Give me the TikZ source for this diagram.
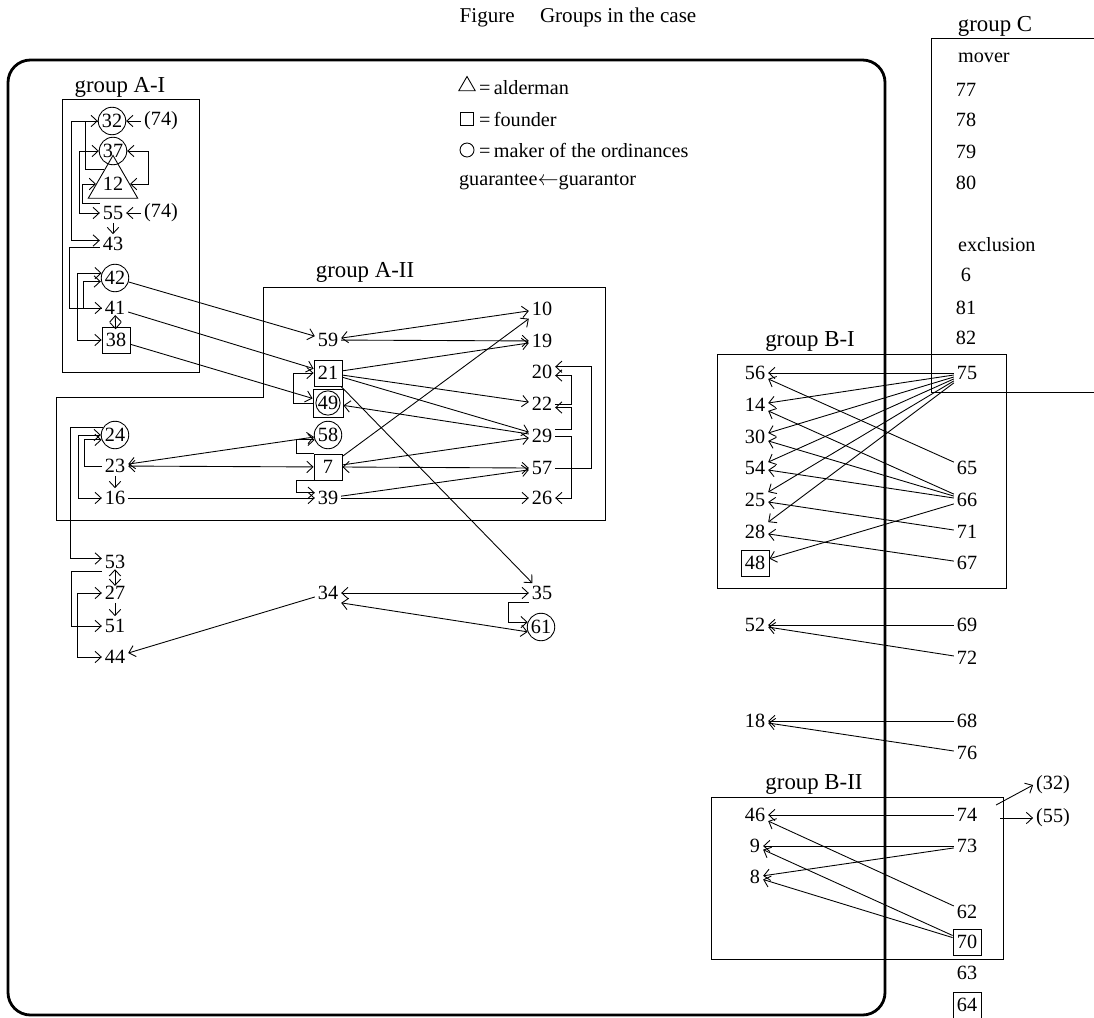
\documentclass[tikz,border=0pt]{standalone}
\usepackage{fontspec}
\setmainfont{Liberation Serif}
\usetikzlibrary{arrows.meta,shapes.geometric}

\begin{document}
\begin{tikzpicture}[x=0.02cm, y=-0.02cm, >={Straight Barb[length=3.5pt,width=6.5pt]},
    num/.style={inner sep=1.5pt, font=\fontsize{11.5}{13}\selectfont},
    maker/.style={num, circle, draw, minimum size=0.55cm, inner sep=0pt},
    founder/.style={num, draw, minimum width=0.56cm, minimum height=0.52cm, inner sep=0pt},
    alder/.style={num, regular polygon, regular polygon sides=3, draw, minimum size=0.94cm, inner sep=0pt},
    grp/.style={font=\fontsize{13}{15}\selectfont, inner sep=1pt},
    mutual/.style={<->, shorten <=-1.5pt, shorten >=-1.5pt},
    every path/.style={line width=0.5pt}]
    \useasboundingbox (0,0) rectangle (1094,1017);

    % Title
    \node[font=\fontsize{12}{14}\selectfont] (title) at (578,17) {Figure\hspace{1.2em}Groups in the case};

    % Frames
    \draw[line width=1.6pt, rounded corners=0.45cm] (8,60) rectangle (885,1015);
    \draw (62,99) rectangle (199,372);
    \draw (263,287) -- (605,287) -- (605,520) -- (56,520) -- (56,397) -- (263,397) -- cycle;
    \draw (717,354) rectangle (1006,588);
    \draw (711,797) rectangle (1003,959);
    \draw (1094,38) -- (931,38) -- (931,392) -- (1094,392);
    \node[grp] (gA1) at (120,87) {group A-I};
    \node[grp] (gA2) at (365,272) {group A-II};
    \node[grp] (gB1) at (810,341) {group B-I};
    \node[grp] (gB2) at (814,784) {group B-II};
    \node[grp] (gC) at (995,26) {group C};

    % Legend
    \node[draw, regular polygon, regular polygon sides=3, minimum size=0.38cm, inner sep=0pt] (symA) at (467,86) {};
    \node[num, anchor=west] (legA) at (476,88) {=\,alderman};
    \node[draw, minimum size=0.26cm, inner sep=0pt] (symF) at (467,119) {};
    \node[num, anchor=west] (legF) at (476,119) {=\,founder};
    \node[draw, circle, minimum size=0.28cm, inner sep=0pt] (symM) at (467,150) {};
    \node[num, anchor=west] (legM) at (476,150) {=\,maker of the ordinances};
    \node[num, anchor=west] (legG) at (456,182) {guarantee$\leftarrow$guarantor};

    % group A-I
    \node[maker] (n32) at (112,121) {32};
    \node[num] (n74a) at (161,121) {(74)};
    \node[maker] (n37) at (113,151) {37};
    \node[alder] (n12) at (113,184) {12};
    \node[num] (n55) at (113,213) {55};
    \node[num] (n74b) at (161,213) {(74)};
    \node[num] (n43) at (113,244) {43};
    \node[maker] (n42) at (115,278) {42};
    \node[num] (n41) at (115,308) {41};
    \node[founder] (n38) at (116,340) {38};

    % group A-II
    \node[num] (n59) at (328,340) {59};
    \node[founder] (n21) at (328,373) {21};
    \node[founder, minimum width=0.6cm, minimum height=0.56cm] (n49) at (328,403) {};
    \node[maker, minimum size=0.48cm] (n49c) at (328,403) {49};
    \node[maker] (n58) at (328,435) {58};
    \node[founder] (n7) at (328,467) {7};
    \node[num] (n39) at (328,498) {39};
    \node[num] (n10) at (542,309) {10};
    \node[num] (n19) at (542,341) {19};
    \node[num] (n20) at (542,372) {20};
    \node[num] (n22) at (542,404) {22};
    \node[num] (n29) at (542,436) {29};
    \node[num] (n57) at (542,468) {57};
    \node[num] (n26) at (542,498) {26};
    \node[maker] (n24) at (115,435) {24};
    \node[num] (n23) at (115,466) {23};
    \node[num] (n16) at (115,498) {16};

    % below group A-II
    \node[num] (n53) at (115,562) {53};
    \node[num] (n27) at (115,593) {27};
    \node[num] (n51) at (115,626) {51};
    \node[num] (n44) at (115,657) {44};
    \node[num] (n34) at (328,593) {34};
    \node[num] (n35) at (542,593) {35};
    \node[maker] (n61) at (541,627) {61};

    % group C
    \node[num, anchor=west] (mover) at (955,58) {mover};
    \node[num] (n77) at (966,90) {77};
    \node[num] (n78) at (966,120) {78};
    \node[num] (n79) at (966,152) {79};
    \node[num] (n80) at (966,183) {80};
    \node[num, anchor=west] (excl) at (955,245) {exclusion};
    \node[num] (n6) at (966,275) {6};
    \node[num] (n81) at (966,308) {81};
    \node[num] (n82) at (966,338) {82};

    % group B-I
    \node[num] (n56) at (755,373) {56};
    \node[num] (n14) at (755,405) {14};
    \node[num] (n30) at (755,437) {30};
    \node[num] (n54) at (755,468) {54};
    \node[num] (n25) at (755,500) {25};
    \node[num] (n28) at (755,532) {28};
    \node[founder] (n48) at (755,563) {48};
    \node[num] (n75) at (967,373) {75};
    \node[num] (n65) at (967,468) {65};
    \node[num] (n66) at (967,500) {66};
    \node[num] (n71) at (967,532) {71};
    \node[num] (n67) at (967,563) {67};

    % between B-I and B-II
    \node[num] (n52) at (755,625) {52};
    \node[num] (n69) at (967,625) {69};
    \node[num] (n72) at (967,658) {72};
    \node[num] (n18) at (755,721) {18};
    \node[num] (n68) at (967,721) {68};
    \node[num] (n76) at (967,753) {76};

    % group B-II
    \node[num] (n46) at (755,815) {46};
    \node[num] (n9) at (755,846) {9};
    \node[num] (n8) at (755,877) {8};
    \node[num] (n74) at (967,815) {74};
    \node[num] (n73) at (967,846) {73};
    \node[num] (n62) at (967,912) {62};
    \node[founder] (n70) at (967,942) {70};
    \node[num] (n63) at (967,973) {63};
    \node[founder] (n64) at (967,1005) {64};
    \node[num] (p32) at (1053,785) {(32)};
    \node[num] (p55) at (1053,818) {(55)};
    \coordinate (c74a) at (996,805);
    \coordinate (c74b) at (1000,818);

    % guarantors inside A-I
    \draw[->] (n74a) -- (n32);
    \draw[->] (n74b) -- (n55);
    \draw[->] (n32.west) -- ++(-26,0) |- ([yshift=2pt]n43.west);
    \draw[->] (n12.120) -- ++(-19,0) |- (n32.west);
    \draw[<->] (n37.west) -- ++(-19,0) |- (n55.west);
    \draw[->] (n55.north west) -- ++(-17,0) |- (n12.west);
    \draw[<->] (n37.east) -- ++(21,0) |- (n12.east);
    \draw[->] (n55) -- (n43);
    \draw[->] ([yshift=-2pt]n43.west) -- ++(-30,0) |- (n41.west);
    \draw[->] (n41.west) -- ++(-18,0) |- ([yshift=-2pt]n42.west);
    \draw[<->] (n42.160) -- ++(-24,0) |- (n38.west);
    \draw[mutual] (n41) -- (n38);

    % from A-I to A-II
    \draw[->] (n42) -- (n59);
    \draw[->] (n41) -- (n21);
    \draw[->] (n38) -- (n49);

    % left part of A-II
    \draw[->] (n24.150) -- ++(-32,0) |- ([yshift=2pt]n53.west);
    \draw[<->] (n24.west) -- ++(-22,0) |- (n16.west);
    \draw[->] (n23.west) -- ++(-17,0) |- (n24.200);
    \draw[->] (n23) -- (n16);
    \draw[<->] (n23) -- (n58);
    \draw[<->] (n23) -- (n7);
    \draw[->] (n16) -- (n39);

    % middle of A-II
    \draw[->] (n49.west) -- ++(-19,0) |- (n21.west);
    \draw[->] (n7.north west) -- ++(-17,0) |- (n58.200);
    \draw[->] (n7.south west) -- ++(-17,0) |- ([yshift=3pt]n39.west);
    \draw[<->] (n59) -- (n10);
    \draw[->] (n59) -- (n19);
    \draw[->] (n21) -- (n19);
    \draw[->] (n7) -- (n10);
    \draw[->] (n21) -- (n22);
    \draw[->] (n21) -- (n29);
    \draw[->] (n21) -- (n35);
    \draw[->] (n29) -- (n49);
    \draw[->] (n7) -- (n29);
    \draw[<->] (n7.east) -- (n57.west);
    \draw[->] (n39) -- (n57);
    \draw[->] (n39) -- (n26);

    % right part of A-II
    \draw[->] (n22.east) -- ++(16,0) |- ([yshift=-2pt]n20.east);
    \draw[->] ([yshift=4pt]n29.east) -- ++(16,0) |- ([yshift=-2pt]n22.east);
    \draw[->] (n57.east) -- ++(36,0) |- ([yshift=3pt]n20.east);
    \draw[->] (n29.east) -- ++(16,0) |- (n26.east);

    % below A-II
    \draw[mutual] (n53) -- (n27);
    \draw[->] (n27) -- (n51);
    \draw[->] (n53.south west) -- ++(-30,0) |- (n51.west);
    \draw[<->] (n27.west) -- ++(-24,0) |- (n44.west);
    \draw[<->] (n34.east) -- (n35.west);
    \draw[<->] (n34.south east) -- (n61.200);
    \draw[->] (n35.south west) -- ++(-20,0) |- (n61.160);
    \draw[->] (n34) -- (n44);

    % group B-I
    \foreach \t in {56,14,30,54,25,28}
        \draw[->] (n75) -- (n\t);
    \draw[->] (n65) -- (n56);
    \foreach \t in {14,30,54,48}
        \draw[->] (n66) -- (n\t);
    \draw[->] (n71) -- (n25);
    \draw[->] (n67) -- (n28);

    % between B-I and B-II
    \draw[->] (n69) -- (n52);
    \draw[->] (n72) -- (n52);
    \draw[->] (n68) -- (n18);
    \draw[->] (n76) -- (n18);

    % group B-II
    \draw[->] (n74) -- (n46);
    \draw[->] (n73) -- (n9);
    \draw[->] (n73) -- (n8);
    \draw[->] (n62) -- (n46);
    \draw[->] (n70) -- (n9);
    \draw[->] (n70) -- (n8);
    \draw[->] (c74a) -- (p32.west);
    \draw[->] (c74b) -- (p55.west);
\end{tikzpicture}
\end{document}
